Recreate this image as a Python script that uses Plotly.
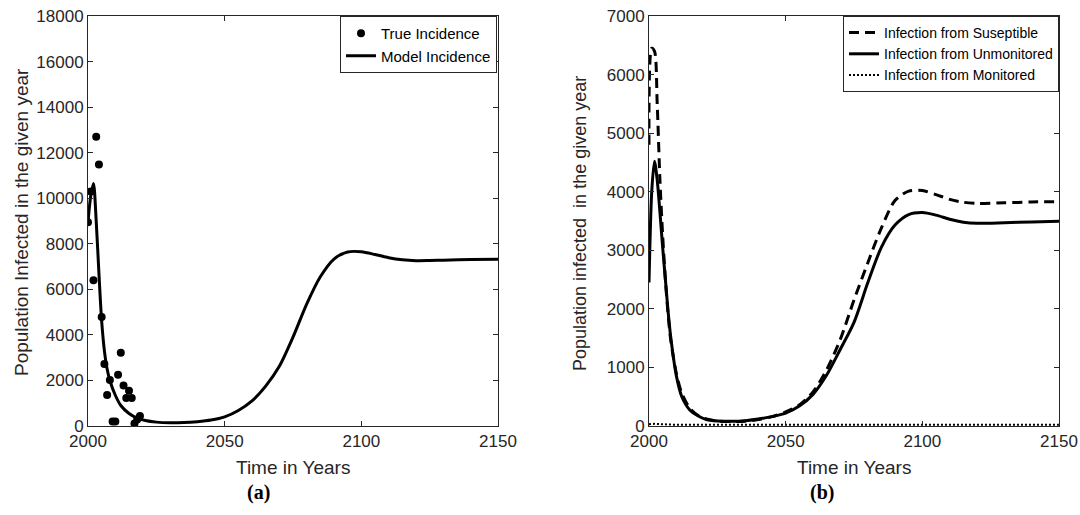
import plotly.graph_objects as go

# ---------------- data ----------------
obs_years = [2000, 2001, 2002, 2003, 2004, 2005, 2006, 2007, 2008, 2009, 2010,
             2011, 2012, 2013, 2014, 2015, 2016, 2017, 2018, 2019]
obs_values = [8950, 10300, 6400, 12700, 11480, 4790, 2720, 1360, 2020, 200, 200,
              2250, 3220, 1780, 1230, 1550, 1230, 110, 290, 440]

model_years = [2000, 2001, 2002, 2003, 2004, 2005, 2006, 2007, 2008, 2010, 2012,
               2015, 2018, 2021, 2025, 2030, 2035, 2040, 2045, 2050, 2055, 2060,
               2065, 2070, 2075, 2080, 2085, 2090, 2095, 2100, 2105, 2110, 2115,
               2120, 2125, 2130, 2140, 2150]
model_values = [8950, 10100, 10650, 9000, 6700, 4600, 3300, 2500, 2000, 1350, 900,
                550, 350, 240, 170, 140, 150, 190, 260, 400, 680, 1100,
                1750, 2620, 3900, 5350, 6550, 7330, 7640, 7650, 7530, 7390, 7300,
                7260, 7265, 7280, 7305, 7320]

b_years = [2000, 2001, 2002, 2003, 2004, 2005, 2006, 2007, 2008, 2010, 2012,
           2015, 2018, 2021, 2025, 2030, 2035, 2040, 2045, 2050, 2055, 2060,
           2065, 2070, 2075, 2080, 2085, 2090, 2095, 2100, 2105, 2110, 2115,
           2120, 2130, 2140, 2150]
susceptible = [4800, 6450, 6400, 5500, 4200, 3250, 2500, 1900, 1450, 900, 560,
               300, 180, 120, 85, 75, 80, 110, 160, 240, 360, 580,
               960, 1480, 2150, 2780, 3380, 3850, 4010, 4020, 3950, 3870, 3820,
               3800, 3810, 3825, 3830]
unmonitored = [2450, 4000, 4520, 4200, 3650, 3050, 2500, 1950, 1500, 860, 500,
               270, 170, 110, 85, 80, 90, 120, 160, 220, 340, 540,
               870, 1310, 1770, 2440, 3050, 3430, 3610, 3645, 3600, 3530, 3480,
               3460, 3470, 3485, 3495]
monitored = [30, 40, 38, 34, 30, 28, 26, 25, 24, 22, 21,
             20, 20, 20, 20, 20, 20, 20, 20, 20, 20, 20,
             20, 20, 20, 20, 20, 20, 20, 20, 20, 20, 20,
             20, 20, 20, 20]

left_ticks_y = list(range(0, 18001, 2000))
right_ticks_y = list(range(0, 7001, 1000))
x_ticks = [2000, 2050, 2100, 2150]

# ---------------- figure ----------------
W, H = 1080, 515
FONT = "Liberation Sans, Arial, sans-serif"
SERIF = "Liberation Serif, Times New Roman, serif"
AXC = "#262626"

fig = go.Figure()

fig.add_trace(go.Scatter(x=obs_years, y=obs_values, mode="markers", name="True Incidence",
                         marker=dict(color="black", size=8), xaxis="x", yaxis="y",
                         legend="legend"))
fig.add_trace(go.Scatter(x=model_years, y=model_values, mode="lines", name="Model Incidence",
                         line=dict(color="black", width=3, shape="spline", smoothing=0.8),
                         xaxis="x", yaxis="y", legend="legend"))

fig.add_trace(go.Scatter(x=b_years, y=susceptible, mode="lines", name="Infection from Suseptible",
                         line=dict(color="black", width=3, dash="10px,6px", shape="spline", smoothing=0.8),
                         xaxis="x2", yaxis="y2", legend="legend2"))
fig.add_trace(go.Scatter(x=b_years, y=unmonitored, mode="lines", name="Infection from Unmonitored",
                         line=dict(color="black", width=3, shape="spline", smoothing=0.8),
                         xaxis="x2", yaxis="y2", legend="legend2"))
fig.add_trace(go.Scatter(x=b_years, y=monitored, mode="lines", name="Infection from Monitored",
                         line=dict(color="black", width=2, dash="2px,2px"),
                         xaxis="x2", yaxis="y2", legend="legend2"))

def px_x(p):
    return p / W

def px_y(p):
    return 1 - p / H

ax_common = dict(showline=True, linecolor=AXC, linewidth=1, mirror="ticks",
                 ticks="inside", ticklen=5, tickcolor=AXC, showgrid=False,
                 zeroline=False, automargin=False, ticklabeloverflow="allow",
                 tickfont=dict(family=FONT, size=17, color=AXC))

fig.update_layout(
    width=W, height=H, margin=dict(l=0, r=0, t=0, b=0, autoexpand=False),
    paper_bgcolor="white", plot_bgcolor="white",
    font=dict(family=FONT, color=AXC),
    xaxis=dict(domain=[px_x(88), px_x(498)], range=[2000, 2150], tickvals=x_ticks,
               ticktext=[str(v) for v in x_ticks], anchor="y", **ax_common),
    yaxis=dict(domain=[px_y(426), px_y(16)], range=[0, 18000], tickvals=left_ticks_y,
               ticktext=[str(v) for v in left_ticks_y], anchor="x", **ax_common),
    xaxis2=dict(domain=[px_x(649), px_x(1059)], range=[2000, 2150], tickvals=x_ticks,
                ticktext=[str(v) for v in x_ticks], anchor="y2", **ax_common),
    yaxis2=dict(domain=[px_y(426), px_y(16)], range=[0, 7000], tickvals=right_ticks_y,
                ticktext=[str(v) for v in right_ticks_y], anchor="x2", **ax_common),
    legend=dict(x=px_x(497), y=px_y(16), xanchor="right", yanchor="top",
                bgcolor="white", bordercolor=AXC, borderwidth=1,
                font=dict(family=FONT, size=15, color="black"),
                tracegroupgap=0, itemwidth=30),
    legend2=dict(x=px_x(1059), y=px_y(16), xanchor="right", yanchor="top",
                 bgcolor="white", bordercolor=AXC, borderwidth=1,
                 font=dict(family=FONT, size=14, color="black"),
                 tracegroupgap=0, itemwidth=30),
    showlegend=True,
)

annotations = [
    dict(text="Time in Years", x=px_x(293), y=px_y(467), xref="paper", yref="paper",
         xanchor="center", yanchor="middle", showarrow=False,
         font=dict(family=FONT, size=19, color=AXC)),
    dict(text="Time in Years", x=px_x(854), y=px_y(467), xref="paper", yref="paper",
         xanchor="center", yanchor="middle", showarrow=False,
         font=dict(family=FONT, size=19, color=AXC)),
    dict(text="Population Infected in the given year", x=px_x(21), y=px_y(222),
         xref="paper", yref="paper", xanchor="center", yanchor="middle",
         showarrow=False, textangle=-90,
         font=dict(family=FONT, size=19, color=AXC)),
    dict(text="Population infected  in the given year", x=px_x(580), y=px_y(224),
         xref="paper", yref="paper", xanchor="center", yanchor="middle",
         showarrow=False, textangle=-90,
         font=dict(family=FONT, size=18, color=AXC)),
    dict(text="<b>(a)</b>", x=px_x(258), y=px_y(492), xref="paper", yref="paper",
         xanchor="center", yanchor="middle", showarrow=False,
         font=dict(family=SERIF, size=20, color="black")),
    dict(text="<b>(b)</b>", x=px_x(822), y=px_y(492), xref="paper", yref="paper",
         xanchor="center", yanchor="middle", showarrow=False,
         font=dict(family=SERIF, size=20, color="black")),
]
fig.update_layout(annotations=annotations)

fig.write_html(
    "out.html",
    config={"displayModeBar": False},
    post_script="document.body.style.margin='0px';document.body.style.overflow='hidden';",
)
